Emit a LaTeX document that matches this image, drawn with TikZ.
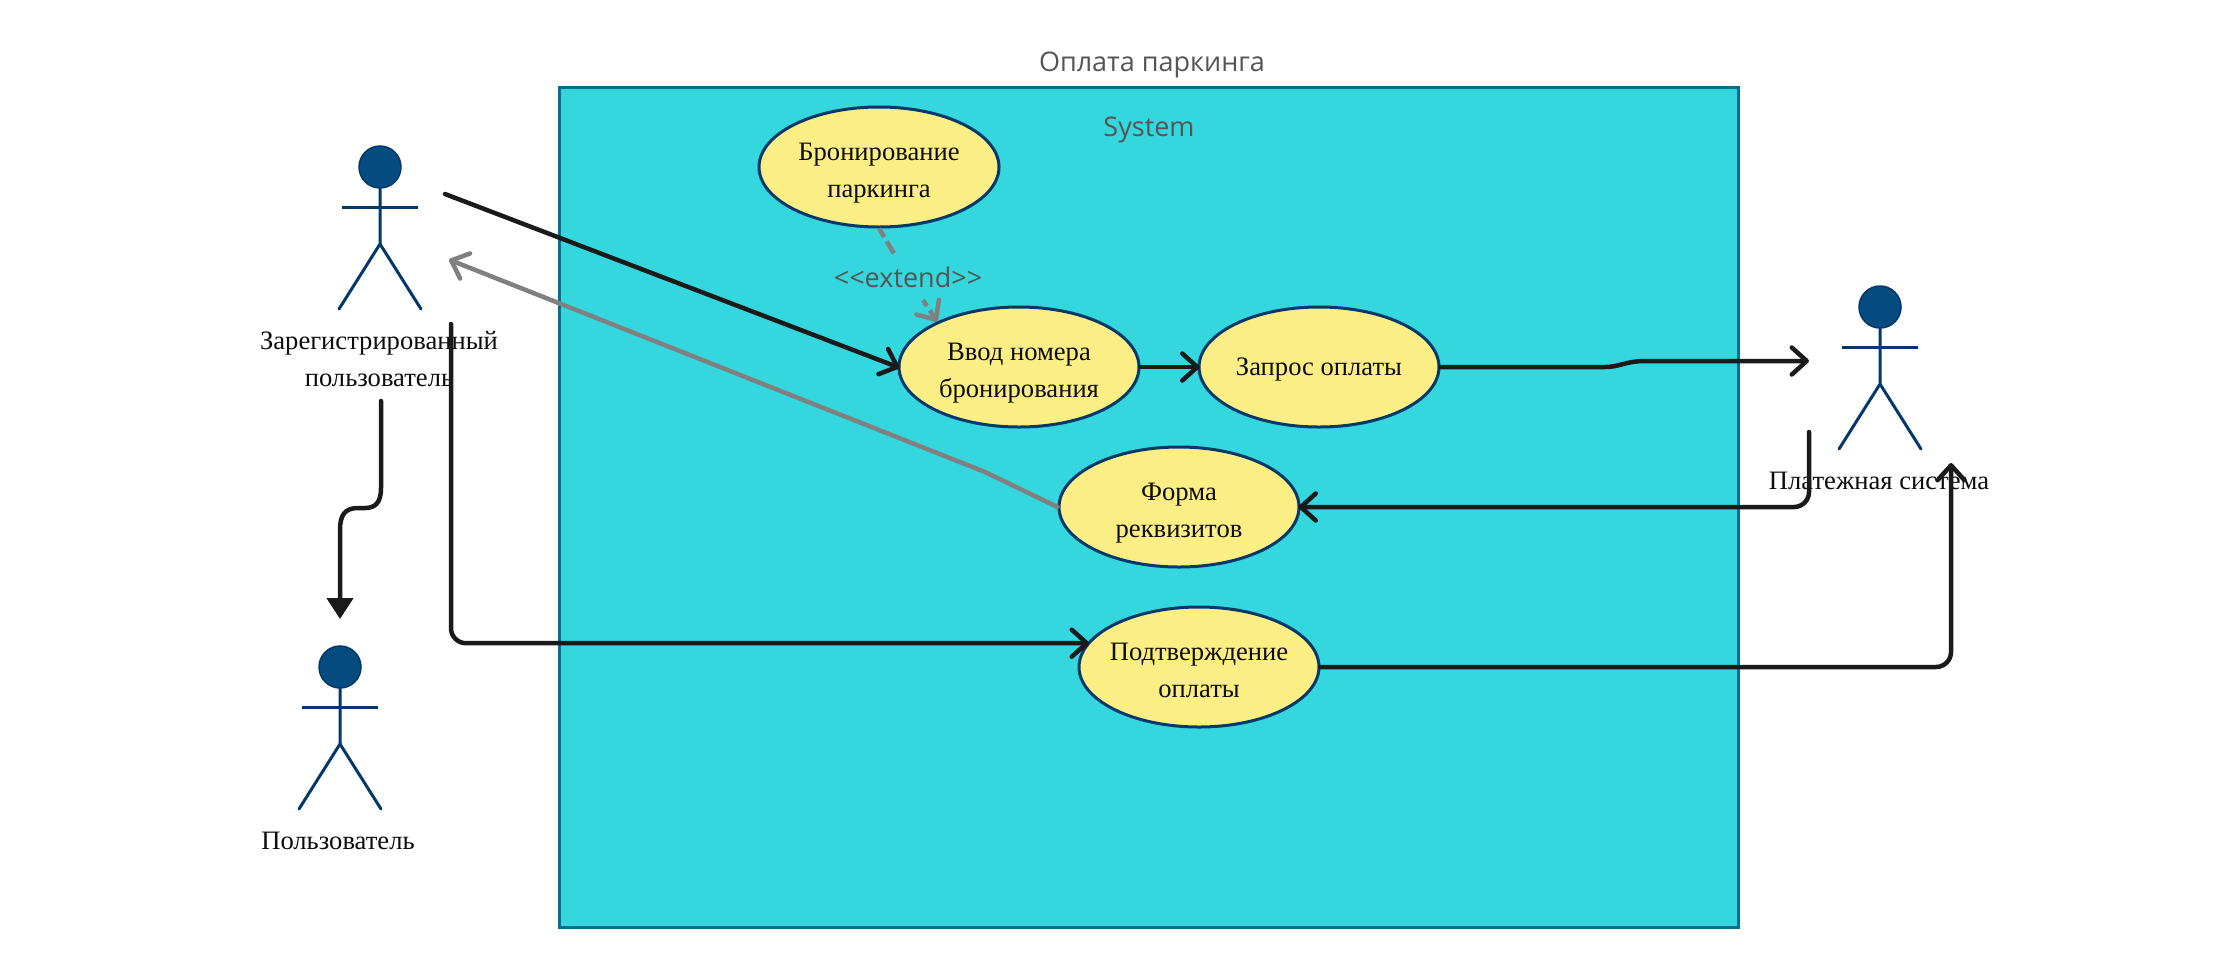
\documentclass[tikz,border=0pt]{standalone}
\usepackage{fontspec}
\setmainfont{Liberation Serif}
\newfontfamily\uisans{Open Sans}
\usetikzlibrary{arrows.meta,shapes.geometric}
\definecolor{sysfill}{HTML}{35D7DF}
\definecolor{sysline}{HTML}{00708F}
\definecolor{ucfill}{HTML}{FBEE84}
\definecolor{navy}{HTML}{03386B}
\definecolor{headfill}{HTML}{044B80}
\definecolor{ink}{HTML}{1A1A1A}
\definecolor{greyline}{HTML}{808080}
\definecolor{labelgrey}{HTML}{555555}
\tikzset{
  usecase/.style={ellipse,draw=navy,fill=ucfill,line width=3pt,minimum width=240pt,minimum height=120pt,inner ysep=0pt,inner xsep=-12pt,align=center,font=\fontsize{26.6}{37}\selectfont,text=black!95,text height=64pt,text depth=4pt},
  usecaseone/.style={usecase,text height=20pt,text depth=4pt},
  head/.style={ellipse,draw=navy,fill=headfill,line width=1.5pt,minimum width=42pt,minimum height=42pt,inner sep=0pt},
  actorline/.style={draw=navy,line width=3pt,line cap=round},
  actorlabel/.style={align=center,inner sep=0pt,font=\fontsize{26.6}{37}\selectfont,text=black!95},
  uilabel/.style={inner sep=0pt,font=\uisans\fontsize{27}{30}\selectfont,text=labelgrey},
  flow/.style={draw=ink,line width=4.5pt,line cap=round,line join=round,shorten >=-2pt,-{Straight Barb[length=15pt,width=27pt,round]}},
  flowfill/.style={draw=ink,line width=4.5pt,line cap=round,-{Triangle[length=21pt,width=26pt]}},
  backflow/.style={draw=greyline,line width=4.5pt,line cap=round,line join=round,shorten >=-1pt,-{Straight Barb[length=15pt,width=27pt,round]}},
  extline/.style={draw=greyline,line width=4.5pt},
}
\newcommand{\actorfig}[3]{%
  \node[head] (#1) at (#2,#3) {};
  \draw[actorline] (#1.south) -- (#2,#3+77) coordinate (#1hip) -- (#2-41,#3+142) coordinate (#1footl);
  \draw[actorline] (#1hip) -- (#2+41,#3+142) coordinate (#1footr);
  \draw[actorline,line cap=butt] (#2-38,#3+40) coordinate (#1arml) -- (#2+38,#3+40) coordinate (#1armr);
}
\begin{document}
\begin{tikzpicture}[x=1pt,y=-1pt]
\useasboundingbox (0,0) rectangle (2221,967);
\fill[white] (0,0) rectangle (2221,967);
% system boundary
\node[draw=sysline,fill=sysfill,line width=3pt,minimum width=1179pt,minimum height=840pt,inner sep=0pt,anchor=north west] (system) at (558,86) {};
\node[uilabel] (systitle) at (1152,65) {Оплата паркинга};
\node[uilabel] (syslabel) at (1149,129.5) {System};
% use cases
\node[usecase] (bron) at (879,167) {Бронирование\\паркинга};
\node[usecase] (vvod) at (1019,367) {Ввод номера\\бронирования};
\node[usecaseone] (zapros) at (1319,367) {Запрос оплаты};
\node[usecase] (forma) at (1179,507) {Форма\\реквизитов};
\node[usecase] (pay) at (1199,667) {Подтверждение\\оплаты};
% actors
\actorfig{reguser}{380}{167}
\actorfig{user}{340}{667}
\actorfig{paysys}{1880}{307}
\node[actorlabel] (reglabel) at (379,359) {Зарегистрированный\\пользователь};
\node[actorlabel] (userlabel) at (338,841) {Пользователь};
\node[actorlabel] (paylabel) at (1879,481) {Платежная система};
% free connector ends
\coordinate (regout) at (445,194);
\coordinate (regin) at (450,260);
\coordinate (regdown) at (381,401);
\coordinate (regpay) at (451,324);
\coordinate (usertip) at (340,619);
\coordinate (payin) at (1807,361);
\coordinate (payout) at (1809,432);
\coordinate (paytip) at (1951,465);
\coordinate (greybend) at (985,472);
% connectors
\draw[flow] (regout) -- (vvod.west);
\draw[flow] (vvod.east) -- (zapros.west);
\draw[flow] (zapros.east) -- (1605,367) .. controls (1620,367) and (1625,361) .. (1646,361) -- (payin);
\draw[flow,rounded corners=15pt] (payout) |- (forma.east);
\draw[flow,rounded corners=15pt] (pay.east) -| (paytip);
\draw[backflow] (forma.west) -- (greybend) -- (regin);
\draw[flow,rounded corners=15pt] (regpay) |- (pay.168);
\draw[flowfill] (regdown) -- (381,488) .. controls (381,503) and (375,508) .. (365,508) -- (358,508) .. controls (345,508) and (340,515) .. (340,530) -- (usertip);
% extend
\node[uilabel,minimum height=46pt] (ext) at (908,277) {<<extend>>};
\draw[extline,dash pattern=on 10pt off 5pt on 14pt] (bron.south) -- (ext);
\draw[extline,dash pattern=on 7pt off 5pt on 30pt,-{Straight Barb[length=15pt,width=27pt,round]}] (ext) -- (vvod.151.8);
\end{tikzpicture}
\end{document}
